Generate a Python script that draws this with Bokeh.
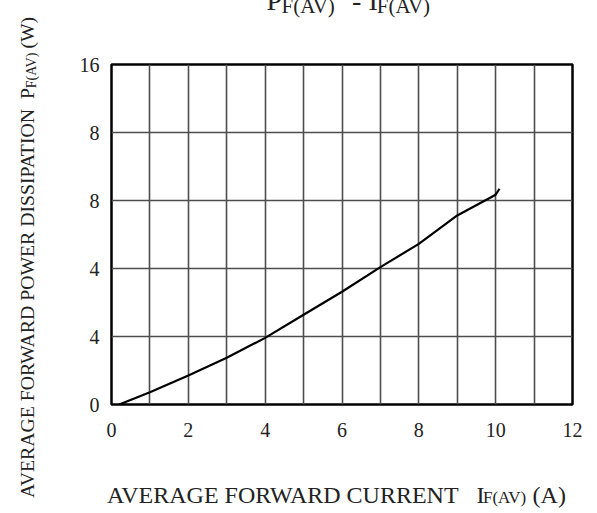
import math
from bokeh.plotting import figure
from bokeh.models import Range1d, FixedTicker, Label
from bokeh.embed import file_html
from bokeh.resources import INLINE

# ---- data ----
current_a = [0.2, 1, 2, 3, 4, 5, 6, 7, 8, 9, 10, 10.1]
power_w = [0.0, 0.72, 1.71, 2.75, 3.92, 5.28, 6.63, 8.08, 9.45, 11.12, 12.34, 12.69]

x_ticks = [0, 2, 4, 6, 8, 10, 12]
x_tick_labels = ["0", "2", "4", "6", "8", "10", "12"]
x_grid = [0, 1, 2, 3, 4, 5, 6, 7, 8, 9, 10, 11, 12]
y_ticks = [0, 4, 8, 12, 16, 20]
y_tick_labels = ["0", "4", "4", "8", "8", "16"]

FONT = "Liberation Serif"
NB = "\u00a0"
BASE = 0.36  # baseline correction (em) for Label placement

# frame geometry in page pixels
FL, FR, FT, FB = 111, 572, 64, 404
W, H = 597, 513

p = figure(width=W, height=H, output_backend="svg", toolbar_location=None,
           x_range=Range1d(0, 12), y_range=Range1d(0, 20),
           min_border_left=FL, min_border_right=W - FR,
           min_border_top=FT, min_border_bottom=H - FB,
           background_fill_color="white", border_fill_color="white")

p.outline_line_color = "black"
p.outline_line_width = 2.5

p.xgrid.ticker = FixedTicker(ticks=x_grid)
p.ygrid.ticker = FixedTicker(ticks=y_ticks)
for g in (p.xgrid, p.ygrid):
    g.grid_line_color = "#4d4d4d"
    g.grid_line_width = 1.6
    g.grid_line_alpha = 1.0

p.xaxis.ticker = FixedTicker(ticks=x_ticks)
p.xaxis.major_label_overrides = {t: l for t, l in zip(x_ticks, x_tick_labels)}
p.yaxis.ticker = FixedTicker(ticks=y_ticks)
p.yaxis.major_label_overrides = {t: l for t, l in zip(y_ticks, y_tick_labels)}
for ax in (p.xaxis, p.yaxis):
    ax.axis_line_color = None
    ax.major_tick_line_color = None
    ax.minor_tick_line_color = None
    ax.major_tick_out = 0
    ax.major_tick_in = 0
    ax.major_label_text_font = FONT
    ax.major_label_text_font_size = "20px"
    ax.major_label_text_color = "#222222"
p.xaxis.major_label_standoff = 18
p.yaxis.major_label_standoff = 12

p.line(current_a, power_w, line_color="black", line_width=2.2)


def dx(px):
    return (px - FL) / (FR - FL) * 12


def dy(py):
    return (FB - py) / (FB - FT) * 20


def lab(text, px, py, size, side, rotated=False):
    # (px, py): start of the text on its baseline, in page pixels
    if rotated:
        px = px - BASE * size
    else:
        py = py - BASE * size
    p.add_layout(Label(x=dx(px), y=dy(py), text=text, text_font=FONT,
                       text_font_size=f"{size}px", text_color="#222222",
                       text_align="left", text_baseline="alphabetic",
                       angle=math.pi / 2 if rotated else 0.0), side)


# Times / Liberation Serif advance widths (per 1000 em)
ADV = {'A': 722, 'V': 722, 'E': 611, 'R': 667, 'G': 722, ' ': 250, NB: 250,
       'F': 556, 'O': 722, 'W': 944, 'D': 722, 'C': 667, 'U': 722, 'N': 722,
       'T': 611, 'P': 556, 'I': 333, 'S': 556, '(': 333, ')': 333, '-': 333}


def width(s, size, kern=0.0):
    return (sum(ADV[c] for c in s) / 1000 - kern) * size


# title (cut off by the top of the page)
lab("P" + NB * 10 + "-" + NB + "I", 266, 10, 28, "above")
lab("F(AV)" + NB * 8 + "F(AV)", 281, 13, 21, "above")

# x axis title
lab("AVERAGE" + NB + "FORWARD" + NB + "CURRENT" + NB * 3 + "I" + NB * 8 + "(A)",
    106.5, 503, 24, "below")
lab("F(AV)", 482.5, 503, 17, "below")

# y axis title (rotated, reading bottom to top)
fy = 19.75
fs = 14
main = "AVERAGE FORWARD POWER DISSIPATION  P".replace(" ", NB)
y0 = 497.5
lab(main + NB * 8 + "(W)", 33.3, y0, fy, "left", rotated=True)
lab("F(AV)", 36.5, y0 - width(main, fy, kern=0.5), fs, "left", rotated=True)

open("out.html", "w").write(file_html(p, INLINE))
